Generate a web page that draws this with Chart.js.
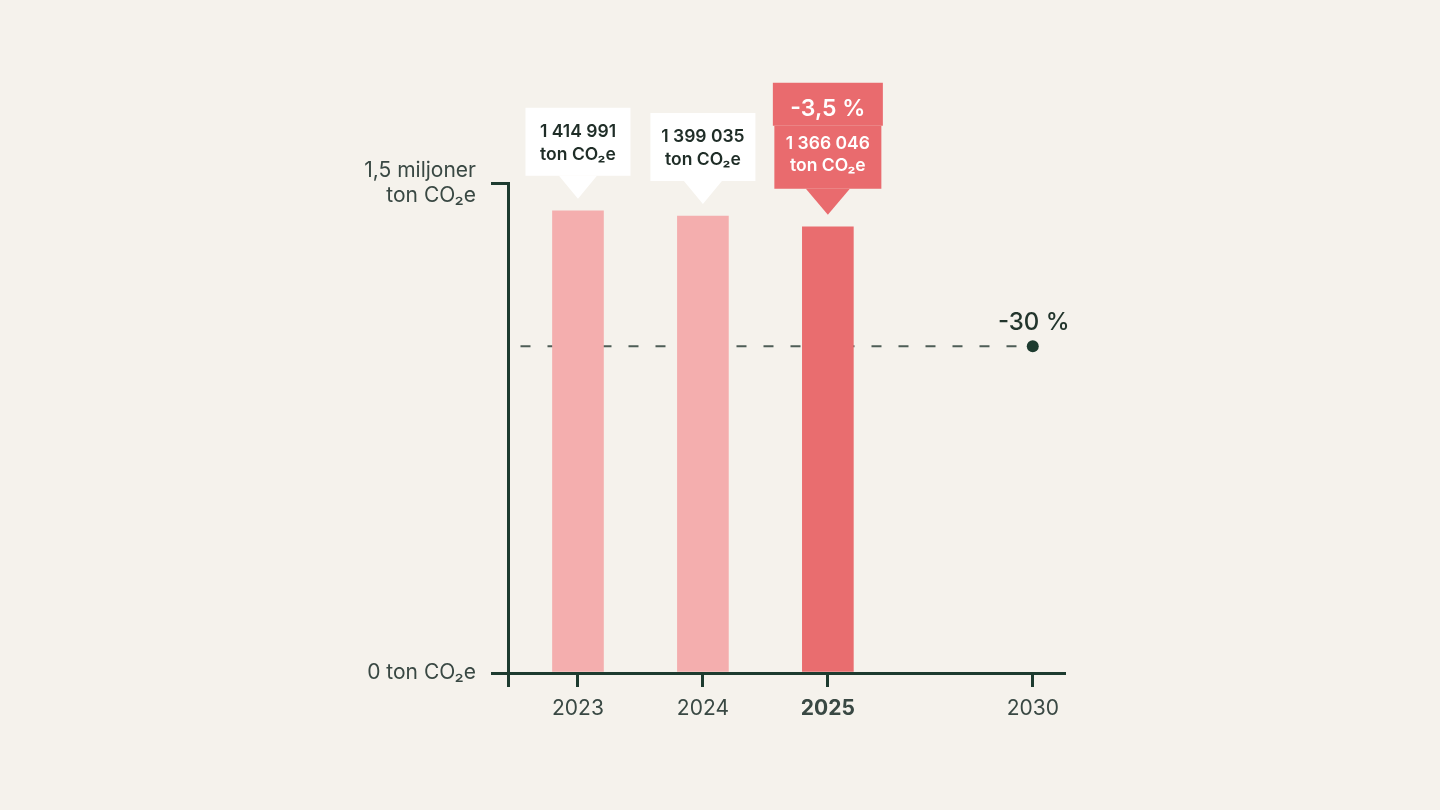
<!DOCTYPE html>
<html>
<head>
<meta charset="utf-8">
<script src="https://cdn.jsdelivr.net/npm/chart.js@4.4.1/dist/chart.umd.min.js"></script>
<style>
  html, body { margin: 0; padding: 0; background: #f5f2ec; }
  #wrap { width: 1440px; height: 810px; }
</style>
</head>
<body>
<div id="wrap"><canvas id="myChart" width="1440" height="810"></canvas></div>
<script>
const years = [2023, 2024, 2025]
const emissions = [1414991, 1399035, 1366046]
const targetYear = 2030
const targetValue = 1000000
const targetLabel = '-30 %'
const yTicks = [0, 1500000]
const xTickYears = [2023, 2024, 2025, 2030]

const dark = '#1d3b2f'
const textColor = '#394843'
const font = 'Inter, "Noto Sans", sans-serif'

// bruten tidsaxel: ett steg per år fram till 2025, sedan komprimerat
const slot = (year) => year <= 2025 ? year - 2023 : 2 + (year - 2025) * 0.328
const fmt = (n) => String(n).replace(/\B(?=(\d{3})+(?!\d))/g, ' ')
const change = ((emissions[2] - emissions[0]) / emissions[0] * 100).toFixed(1).replace('.', ',') + ' %'

const xMin = -0.56
const xMax = 3.89

const callouts = {
  id: 'callouts',
  afterDatasetsDraw (chart) {
    const ctx = chart.ctx
    const bars = chart.getDatasetMeta(1).data
    ctx.save()
    bars.forEach((bar, i) => {
      const cx = bar.x
      const tip = bar.y - 12
      const last = i === bars.length - 1
      ctx.textAlign = 'center'
      ctx.textBaseline = 'middle'
      if (!last) {
        const w = 105
        const h = 68
        const bottom = tip - 23
        const top = bottom - h
        ctx.fillStyle = '#ffffff'
        ctx.fillRect(cx - w / 2, top, w, h)
        ctx.beginPath()
        ctx.moveTo(cx - 19, bottom)
        ctx.lineTo(cx + 19, bottom)
        ctx.lineTo(cx, tip)
        ctx.closePath()
        ctx.fill()
        ctx.fillStyle = '#1f2d27'
        ctx.font = '600 17.5px ' + font
        ctx.fillText(fmt(emissions[i]), cx, top + 24)
        ctx.fillText('ton CO₂e', cx, top + 47)
      } else {
        const bottom = tip - 26
        const bodyTop = bottom - 63
        const top = bodyTop - 43
        ctx.fillStyle = '#e96b6e'
        ctx.fillRect(cx - 55, top, 110, 43)
        ctx.fillRect(cx - 53.5, bodyTop, 107, 63)
        ctx.beginPath()
        ctx.moveTo(cx - 22, bottom)
        ctx.lineTo(cx + 22, bottom)
        ctx.lineTo(cx, tip)
        ctx.closePath()
        ctx.fill()
        ctx.fillStyle = '#ffffff'
        ctx.font = '600 23px ' + font
        ctx.fillText(change, cx, top + 26)
        ctx.font = '600 17.5px ' + font
        ctx.fillText(fmt(emissions[i]), cx, bodyTop + 18)
        ctx.fillText('ton CO₂e', cx, bodyTop + 40)
      }
    })
    // målmarkering
    const xs = chart.scales.x
    const ys = chart.scales.y
    ctx.fillStyle = '#22352c'
    ctx.font = '500 24px ' + font
    ctx.textAlign = 'center'
    ctx.textBaseline = 'middle'
    ctx.fillText(targetLabel, xs.getPixelForValue(slot(targetYear)) + 1, ys.getPixelForValue(targetValue) - 24)
    ctx.restore()
  }
}

new Chart(document.getElementById('myChart'), {
  type: 'bar',
  data: {
    datasets: [
      {
        type: 'line',
        order: 2,
        data: [{ x: xMin + 0.1, y: targetValue }, { x: slot(targetYear), y: targetValue }],
        borderColor: '#4e5d56',
        borderWidth: 2,
        borderDash: [10, 17],
        pointRadius: [0, 6],
        pointBackgroundColor: dark,
        pointBorderWidth: 0
      },
      {
        order: 1,
        data: years.map((y, i) => ({ x: slot(y), y: emissions[i] })),
        backgroundColor: ['#f4aeae', '#f4aeae', '#e96d6f'],
        barThickness: 51
      }
    ]
  },
  options: {
    responsive: false,
    animation: false,
    layout: { padding: { top: 183, right: 376, left: 0, bottom: 0 } },
    plugins: { legend: { display: false }, tooltip: { enabled: false } },
    scales: {
      x: {
        type: 'linear',
        min: xMin,
        max: xMax,
        offset: false,
        afterFit (scale) { scale.height = 810 - 183 - 490 },
        afterBuildTicks (scale) {
          scale.ticks = [{ value: xMin }].concat(xTickYears.map(y => ({ value: slot(y) })))
        },
        border: { display: true, color: dark, width: 3 },
        grid: { offset: false, drawOnChartArea: false, drawTicks: true, tickLength: 14, color: dark, lineWidth: 3 },
        ticks: {
          padding: 9,
          color: textColor,
          font: (c) => ({ family: font, size: 21, weight: c.tick && c.tick.value === slot(2025) ? '700' : '400' }),
          callback: (v) => {
            const y = xTickYears.find(t => Math.abs(slot(t) - v) < 0.001)
            return y ? String(y) : ''
          }
        }
      },
      y: {
        min: yTicks[0],
        max: yTicks[1],
        afterFit (scale) { scale.width = 508 },
        afterBuildTicks (scale) {
          scale.ticks = yTicks.map(v => ({ value: v }))
        },
        border: { display: true, color: dark, width: 3 },
        grid: { drawOnChartArea: false, drawTicks: true, tickLength: 17, color: dark, lineWidth: 3 },
        ticks: {
          padding: 15,
          color: textColor,
          font: { family: font, size: 21 },
          callback: (v) => v === 0 ? '0 ton CO₂e' : ['1,5 miljoner', 'ton CO₂e']
        }
      }
    }
  },
  plugins: [callouts]
})
</script>
</body>
</html>
